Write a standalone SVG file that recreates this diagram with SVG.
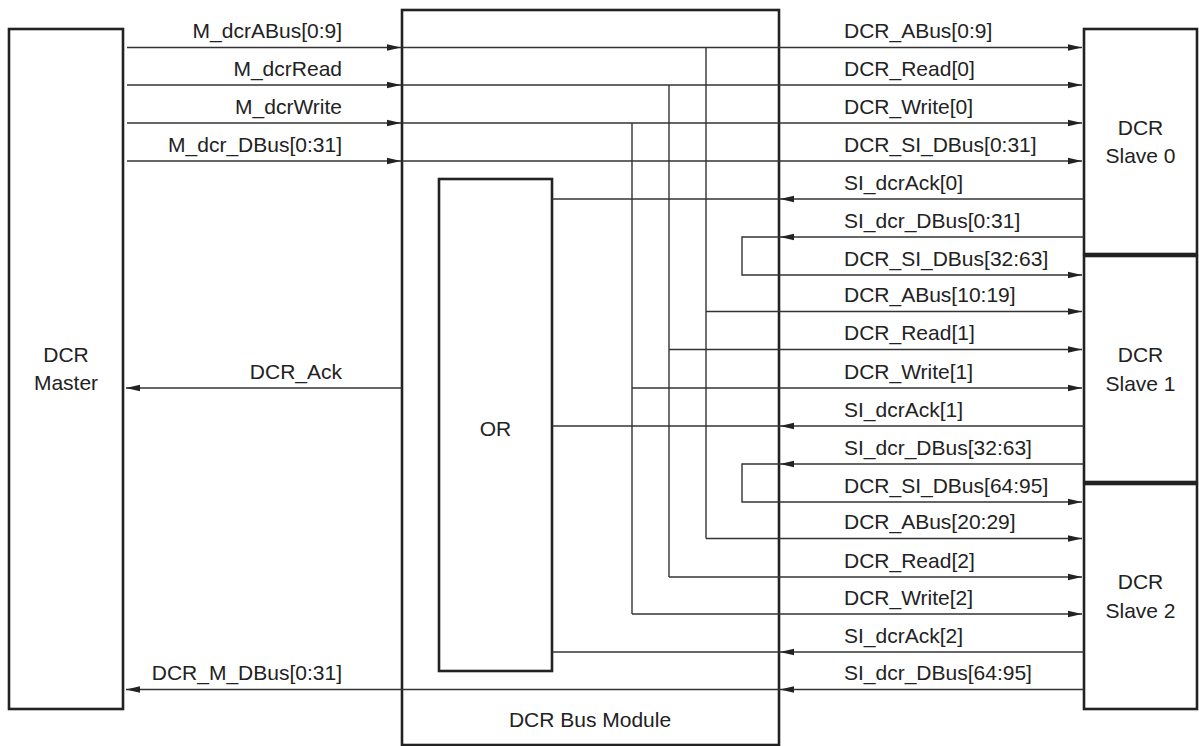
<svg xmlns="http://www.w3.org/2000/svg" width="1199" height="746" viewBox="0 0 1199 746">
<style>
.box{fill:#fff;stroke:#222;stroke-width:2.6}
.w{fill:none;stroke:#333;stroke-width:1.4}
text{font-family:"Liberation Sans",Arial,sans-serif;font-size:21px;fill:#222}
.r{text-anchor:end}
.c{text-anchor:middle}
</style>
<defs>
<marker id="a" markerUnits="userSpaceOnUse" markerWidth="16" markerHeight="10" viewBox="-14 -5 16 10" refX="0" refY="0" orient="auto">
<path d="M0,0 L-14,-3.2 L-14,3.2 Z" fill="#222"/>
</marker>
</defs>
<rect width="1199" height="746" fill="#fff"/>
<g id="bus-module"><rect class="box" x="402" y="10" width="377" height="735"/><text class="c" x="590" y="727">DCR Bus Module</text></g>
<g id="master"><rect class="box" x="9" y="29" width="114" height="680"/><text class="c" x="66" y="362">DCR</text><text class="c" x="66" y="390">Master</text></g>
<g id="or"><rect class="box" x="439" y="179" width="113" height="492"/><text class="c" x="495.5" y="436">OR</text></g>
<g id="slave0"><rect class="box" x="1084" y="29" width="113" height="225"/><text class="c" x="1140.5" y="135">DCR</text><text class="c" x="1140.5" y="163">Slave 0</text></g>
<g id="slave1"><rect class="box" x="1084" y="256" width="113" height="226"/><text class="c" x="1140.5" y="362">DCR</text><text class="c" x="1140.5" y="391">Slave 1</text></g>
<g id="slave2"><rect class="box" x="1084" y="484" width="113" height="225"/><text class="c" x="1140.5" y="589">DCR</text><text class="c" x="1140.5" y="618">Slave 2</text></g>
<g id="connectors">
<path class="w" d="M127,47.5H401" marker-end="url(#a)"/>
<path class="w" d="M127,85H401" marker-end="url(#a)"/>
<path class="w" d="M127,123H401" marker-end="url(#a)"/>
<path class="w" d="M127,161H401" marker-end="url(#a)"/>
<path class="w" d="M402,47.5H1082" marker-end="url(#a)"/>
<path class="w" d="M402,85H1082" marker-end="url(#a)"/>
<path class="w" d="M402,123H1082" marker-end="url(#a)"/>
<path class="w" d="M402,161H1082" marker-end="url(#a)"/>
<path class="w" d="M706,47.5V538.5"/>
<path class="w" d="M669,85V577"/>
<path class="w" d="M632,123V614"/>
<path class="w" d="M706,311.5H1082" marker-end="url(#a)"/>
<path class="w" d="M669,349.5H1082" marker-end="url(#a)"/>
<path class="w" d="M632,388H1082" marker-end="url(#a)"/>
<path class="w" d="M706,538.5H1082" marker-end="url(#a)"/>
<path class="w" d="M669,577H1082" marker-end="url(#a)"/>
<path class="w" d="M632,614H1082" marker-end="url(#a)"/>
<path class="w" d="M1084,199H780" marker-end="url(#a)"/>
<path class="w" d="M780,199H552"/>
<path class="w" d="M1084,426H780" marker-end="url(#a)"/>
<path class="w" d="M780,426H552"/>
<path class="w" d="M1084,652H780" marker-end="url(#a)"/>
<path class="w" d="M780,652H552"/>
<path class="w" d="M1084,237H780" marker-end="url(#a)"/>
<path class="w" d="M780,237H742V275H1082" marker-end="url(#a)"/>
<path class="w" d="M1084,464H780" marker-end="url(#a)"/>
<path class="w" d="M780,464H742V502H1082" marker-end="url(#a)"/>
<path class="w" d="M1084,689.5H780" marker-end="url(#a)"/>
<path class="w" d="M780,689.5H126" marker-end="url(#a)"/>
<path class="w" d="M402,388H126" marker-end="url(#a)"/>
</g>
<g id="labels">
<text class="r" x="342" y="38">M_dcrABus[0:9]</text>
<text class="r" x="342" y="75.5">M_dcrRead</text>
<text class="r" x="342" y="113.5">M_dcrWrite</text>
<text class="r" x="342" y="151.5">M_dcr_DBus[0:31]</text>
<text class="r" x="342" y="378.5">DCR_Ack</text>
<text class="r" x="342" y="680">DCR_M_DBus[0:31]</text>
<text x="844" y="38">DCR_ABus[0:9]</text>
<text x="844" y="75.5">DCR_Read[0]</text>
<text x="844" y="113.5">DCR_Write[0]</text>
<text x="844" y="151.5">DCR_SI_DBus[0:31]</text>
<text x="844" y="189.5">SI_dcrAck[0]</text>
<text x="844" y="227.5">SI_dcr_DBus[0:31]</text>
<text x="844" y="265.5">DCR_SI_DBus[32:63]</text>
<text x="844" y="302">DCR_ABus[10:19]</text>
<text x="844" y="340">DCR_Read[1]</text>
<text x="844" y="378.5">DCR_Write[1]</text>
<text x="844" y="416.5">SI_dcrAck[1]</text>
<text x="844" y="454.5">SI_dcr_DBus[32:63]</text>
<text x="844" y="492.5">DCR_SI_DBus[64:95]</text>
<text x="844" y="529">DCR_ABus[20:29]</text>
<text x="844" y="567.5">DCR_Read[2]</text>
<text x="844" y="604.5">DCR_Write[2]</text>
<text x="844" y="642.5">SI_dcrAck[2]</text>
<text x="844" y="680">SI_dcr_DBus[64:95]</text>
</g>
</svg>
